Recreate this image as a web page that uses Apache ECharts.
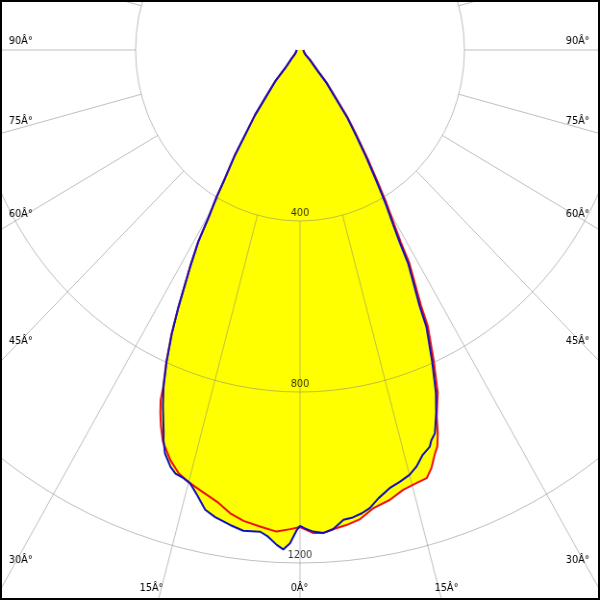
<!DOCTYPE html>
<html>
<head>
<meta charset="utf-8">
<script src="https://cdn.jsdelivr.net/npm/echarts@6/dist/echarts.min.js"></script>
<style>
  html, body { margin: 0; padding: 0; background: #fff; }
  #wrap { position: relative; width: 600px; height: 600px; overflow: hidden; }
  #chart { position: absolute; left: 0; top: 0; width: 624px; height: 600px; transform: scaleX(0.9615); transform-origin: 0 0; }
  #frame { position: absolute; left: 0; top: 0; width: 600px; height: 600px; box-sizing: border-box; border: 2px solid #000; pointer-events: none; }
</style>
</head>
<body>
<div id="wrap"><div id="chart"></div><div id="frame"></div></div>
<script>
// Luminous intensity (cd) vs gamma angle (deg); positive = left half, negative = right half
const redAngle = [90, 60, 50, 46, 40.4, 39.4, 37.0, 35.75, 33.9, 32.8, 31.3, 30.55, 29.55, 28.9, 27.8, 26.2, 25.2, 24.0, 22.85, 22.5, 21.8, 21.0, 20.0, 18.2, 16.6, 14.8, 13.3, 10.8, 8.9, 7.1, 5.0, 2.9, 1.2, 0,
  -1.6, -2.9, -4.1, -5.8, -7.6, -9.4, -11.7, -13.7, -15.6, -17.1, -18.1, -19.2, -19.8, -20.5, -21.2, -22.7, -24.1, -25.7, -26.2, -28.1, -28.6, -29.3, -30.5, -31.5, -32.95, -34.5, -36.4, -37.7, -40.2, -41.5, -46.3, -50, -60, -90];
const redValue = [8, 12, 18, 28, 56, 96, 141, 187, 240, 292, 351, 399, 453, 512, 573, 670, 734, 800, 858, 886, 915, 944, 975, 1010, 1033, 1048, 1058, 1076, 1097, 1110, 1119, 1128, 1121, 1116,
  1130, 1131, 1124, 1117, 1107, 1087, 1075, 1059, 1052, 1048, 1029, 999, 986, 957, 920, 868, 797, 717, 667, 564, 513, 468, 411, 360, 301, 245, 193, 147, 101, 67, 34, 18, 12, 8];

const blueAngle = [90, 60, 50, 46, 40.4, 39.4, 37.0, 35.75, 33.9, 32.8, 31.3, 30.55, 29.55, 28.9, 27.8, 26.2, 25.2, 24.0, 22.85, 21.8, 20.3, 20.0, 19.2, 17.9, 17.0, 15.8, 14.8, 13.5, 12.1, 10.7, 8.7, 7.0, 4.9, 3.9, 2.8, 2.0, 1.2, 0.4, 0,
  -0.6, -1.6, -2.9, -4.1, -5.5, -6.7, -7.9, -9.0, -10.3, -12.0, -13.5, -15.0, -16.2, -17.5, -18.8, -19.3, -20.1, -21.3, -22.4, -23.8, -25.4, -25.9, -27.8, -28.3, -29.0, -30.2, -31.2, -32.65, -34.2, -36.1, -37.4, -39.9, -41.2, -46.1, -50, -60, -90];
const blueValue = [8, 12, 18, 28, 56, 96, 141, 187, 240, 292, 351, 399, 453, 512, 573, 669, 732, 798, 855, 898, 956, 971, 999, 1025, 1036, 1041, 1048, 1071, 1100, 1112, 1124, 1133, 1131, 1141, 1159, 1169, 1154, 1123, 1113,
  1119, 1127, 1131, 1124, 1104, 1101, 1094, 1085, 1066, 1048, 1039, 1029, 1015, 993, 980, 967, 955, 912, 868, 797, 717, 667, 564, 513, 468, 411, 360, 301, 245, 193, 147, 101, 67, 34, 18, 12, 8];

const radiusTicks = [400, 800, 1200];
const sideLabels = ['90Â°', '75Â°', '60Â°', '45Â°', '30Â°'];
const bottomLabels = ['15Â°', '0Â°', '15Â°'];

const K = 1.04;            // horizontal stretch compensated by CSS scaleX
const CX = 300 * K, CY = 50;
const RMAX = 684;          // px for 1600 cd
const FONT = '10px "DejaVu Sans"';

const pairs = (a, v) => a.map((g, i) => [v[i], g]);
const redData = pairs(redAngle, redValue);
const blueData = pairs(blueAngle, blueValue);

const sideY = [41.7, 121.3, 214.7, 341.7, 560];
const bottomX = [151.5, 299.5, 446.5];
const graphics = [];
sideLabels.forEach((t, i) => {
  graphics.push({ type: 'text', x: 9 * K, y: sideY[i], z: 10,
    style: { text: t, font: FONT, fill: '#000', align: 'left', verticalAlign: 'middle', textAlign: 'left', textVerticalAlign: 'middle' } });
  graphics.push({ type: 'text', x: 589.5 * K, y: sideY[i], z: 10,
    style: { text: t, font: FONT, fill: '#000', align: 'right', verticalAlign: 'middle', textAlign: 'right', textVerticalAlign: 'middle' } });
});
bottomLabels.forEach((t, i) => {
  graphics.push({ type: 'text', x: bottomX[i] * K, y: 588, z: 10,
    style: { text: t, font: FONT, fill: '#000', align: 'center', verticalAlign: 'middle', textAlign: 'center', textVerticalAlign: 'middle' } });
});

const gridColor = 'rgba(128,128,128,0.5)';
const chart = echarts.init(document.getElementById('chart'), null, { renderer: 'canvas' });
chart.setOption({
  animation: false,
  backgroundColor: '#fff',
  polar: [
    { center: [CX, CY], radius: [0, RMAX] },
    { center: [CX, CY], radius: [171, 760] }
  ],
  angleAxis: [
    { polarIndex: 0, type: 'value', min: -180, max: 180, startAngle: 90, clockwise: true, interval: 15, z: 3,
      axisLine: { show: false }, axisTick: { show: false }, axisLabel: { show: false }, splitLine: { show: false } },
    { polarIndex: 1, type: 'value', min: -180, max: 180, startAngle: 90, clockwise: true, interval: 15, z: 3,
      axisLine: { show: false }, axisTick: { show: false }, axisLabel: { show: false },
      splitLine: { show: true, lineStyle: { color: gridColor, width: 1 } } }
  ],
  radiusAxis: [
    { polarIndex: 0, type: 'value', min: 0, max: 1600, interval: 400, z: 3,
      axisLine: { show: false }, axisTick: { show: false }, axisLabel: { show: false },
      splitLine: { show: true, lineStyle: { color: gridColor, width: 1 } } },
    { polarIndex: 1, type: 'value', min: 0, max: 1, show: false }
  ],
  graphic: graphics,
  series: [
    { type: 'line', coordinateSystem: 'polar', polarIndex: 0, data: redData, symbol: 'none', z: 1,
      lineStyle: { width: 0, opacity: 0 }, areaStyle: { color: '#ffff00', opacity: 1 }, silent: true },
    { type: 'line', coordinateSystem: 'polar', polarIndex: 0, data: blueData, symbol: 'none', z: 1,
      lineStyle: { width: 0, opacity: 0 }, areaStyle: { color: '#ffff00', opacity: 1 }, silent: true },
    { type: 'line', coordinateSystem: 'polar', polarIndex: 0, data: redData, symbol: 'none', z: 5,
      lineStyle: { color: '#ee1111', width: 2 } },
    { type: 'line', coordinateSystem: 'polar', polarIndex: 0, data: blueData, symbol: 'none', z: 6,
      lineStyle: { color: '#1010c0', width: 2 } },
    { type: 'scatter', coordinateSystem: 'polar', polarIndex: 0, z: 7, symbolSize: 1,
      itemStyle: { color: 'rgba(0,0,0,0)' },
      data: radiusTicks.map(r => [r, 0]),
      label: { show: true, position: 'top', distance: 2, color: '#000', fontFamily: 'DejaVu Sans', fontSize: 10,
        formatter: p => String(p.value[0]) } }
  ]
});
</script>
</body>
</html>
